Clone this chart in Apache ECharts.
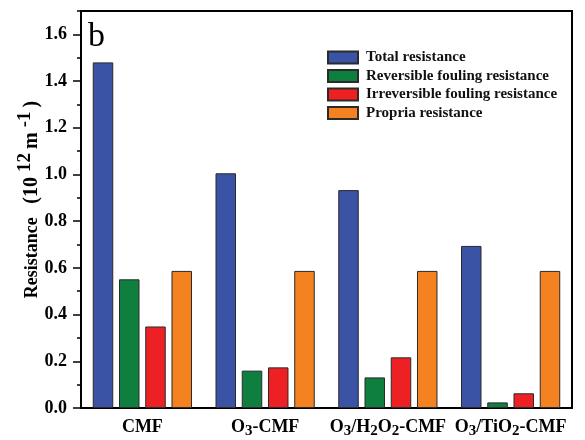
<!DOCTYPE html>
<html><head><meta charset="utf-8">
<script src="https://cdn.jsdelivr.net/npm/echarts@6/dist/echarts.min.js"></script>
<style>html,body{margin:0;padding:0;background:#fff}#c{width:585px;height:440px}</style>
</head><body><div id="c"></div>
<script>
const categories = ['CMF', 'O{sub|3}-CMF', 'O{sub|3}/H{sub|2}O{sub|2}-CMF', 'O{sub|3}/TiO{sub|2}-CMF'];
const seriesNames = ['Total resistance', 'Reversible fouling resistance', 'Irreversible fouling resistance', 'Propria resistance'];
const totalR = [1.48, 1.005, 0.933, 0.694];
const reversibleR = [0.551, 0.160, 0.131, 0.024];
const irreversibleR = [0.349, 0.174, 0.217, 0.063];
const propriaR = [0.587, 0.587, 0.587, 0.587];
const majorTicks = [0, 0.2, 0.4, 0.6, 0.8, 1.0, 1.2, 1.4, 1.6];
const colors = ['#3A53A4', '#0F7F3F', '#ED2124', '#F58220'];

const font = '"Liberation Serif", "Times New Roman", serif';
const chart = echarts.init(document.getElementById('c'));
const values = [totalR, reversibleR, irreversibleR, propriaR];
chart.setOption({
  animation: false,
  grid: {left: 81, right: 13, top: 11, bottom: 32, show: true, borderColor: '#000', borderWidth: 2,
    containLabel: false, outerBoundsMode: 'none'},
  legend: {
    orient: 'vertical', left: 327, top: 50, padding: 0,
    icon: 'rect',
    itemWidth: 30, itemHeight: 12, itemGap: 3.5,
    textStyle: {fontFamily: font, fontWeight: 'bold', fontSize: 15, lineHeight: 15, color: '#111', padding: [0, 0, 0, 3]},
    data: seriesNames
  },
  graphic: [{type: 'text', left: 88, top: 20, z: 100, style: {text: 'b', font: '34px ' + font, fill: '#000'}}],
  xAxis: {
    type: 'category', data: categories,
    axisLine: {lineStyle: {color: '#000', width: 2}},
    axisTick: {show: false},
    axisLabel: {
      interval: 0, hideOverlap: false,
      margin: 7, color: '#000',
      fontFamily: font, fontWeight: 'bold', fontSize: 18, lineHeight: 24,
      formatter: v => v,
      rich: {sub: {fontFamily: font, fontWeight: 'bold', fontSize: 15, verticalAlign: 'bottom', lineHeight: 14, color: '#000'}}
    }
  },
  yAxis: [{
    type: 'value', min: 0, max: 1.7, interval: 0.1,
    name: 'Resistance   {p|(10}{sup|12}{p|m}{sup|-1}{p|)}',
    nameLocation: 'middle', nameGap: 33, nameRotate: 90, nameMoveOverlap: false,
    nameTextStyle: {fontFamily: font, fontWeight: 'bold', fontSize: 18, lineHeight: 32, color: '#000', padding: [0, 0, 0, 20],
      rich: {
        p: {fontFamily: font, fontWeight: 'bold', fontSize: 20, lineHeight: 32, color: '#000'},
        sup: {fontFamily: font, fontWeight: 'bold', fontSize: 19, verticalAlign: 'top', lineHeight: 18, padding: [0, 4, 0, 5], color: '#000'}
      }},
    axisLine: {show: true, lineStyle: {color: '#000', width: 2}},
    axisTick: {show: true, length: 4, lineStyle: {color: '#000', width: 1.5}},
    splitLine: {show: false},
    axisLabel: {customValues: majorTicks, margin: 14, color: '#000', fontFamily: font, fontWeight: 'bold', fontSize: 18,
      formatter: v => v.toFixed(1)}
  }, {
    type: 'value', min: 0, max: 1.7, interval: 0.1, position: 'left',
    axisLine: {show: false},
    axisTick: {show: true, customValues: majorTicks, length: 8, lineStyle: {color: '#000', width: 1.5}},
    splitLine: {show: false},
    axisLabel: {show: false}
  }],
  series: seriesNames.map((n, i) => ({
    name: n, type: 'bar', data: values[i], yAxisIndex: 0,
    barWidth: 20.5, barGap: '28%',
    itemStyle: {color: colors[i], borderColor: '#2a2a2a', borderWidth: 1}
  }))
});
</script></body></html>
